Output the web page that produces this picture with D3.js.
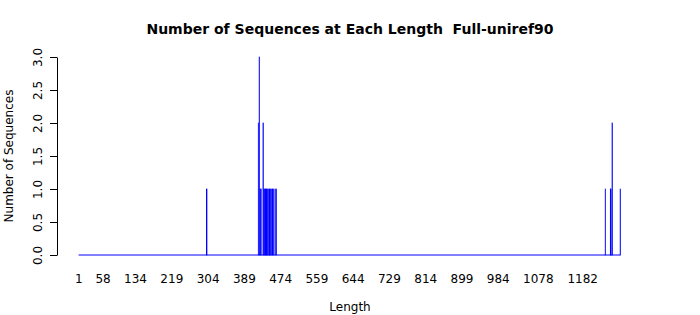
<!DOCTYPE html>
<html>
<head>
<meta charset="utf-8">
<script src="https://cdn.jsdelivr.net/npm/d3@7"></script>
<style>
  body { margin: 0; background: #fff; }
  text { font-family: "DejaVu Sans", sans-serif; fill: #000; }
</style>
</head>
<body>
<svg width="700" height="315"></svg>
<script>
// sequence lengths that have at least one sequence, and how many
var lengths = [301, 422, 424, 426, 428, 433, 435, 437, 439, 441, 443, 445, 448, 450, 452, 455, 457, 461, 464,
               1235, 1247, 1248, 1251, 1270];
var counts  = [1,   2,   3,   1,   1,   2,   1,   1,   1,   1,   1,   1,   1,   1,   1,   1,   1,   1,   1,
               1,    1,    1,    2,    1];
var minLength = 1, maxLength = 1270;
var xLabels = [1, 58, 134, 219, 304, 389, 474, 559, 644, 729, 814, 899, 984, 1078, 1182];
var yTicks = [0, 0.5, 1, 1.5, 2, 2.5, 3];

var svg = d3.select("svg");

var x = d3.scaleLinear().domain([minLength, maxLength]).range([78.8, 620.3]),
    y = d3.scaleLinear().domain([0, 3]).range([255, 57]);

var barW = (x(2) - x(1)) / 1.2; // R barplot, space = 0.2

var data = lengths.map(function(l, i) { return { len: l, n: counts[i] }; });

// zero-height bars show up as a line along the base
svg.append("line")
    .attr("x1", x(minLength) - barW / 2)
    .attr("x2", x(maxLength) + barW / 2)
    .attr("y1", y(0))
    .attr("y2", y(0))
    .style("stroke", "blue")
    .style("stroke-width", 1);

svg.append("g")
  .selectAll("rect")
  .data(data)
  .enter().append("rect")
    .attr("x", function(d) { return x(d.len) - barW / 2; })
    .attr("y", function(d) { return y(d.n); })
    .attr("width", barW)
    .attr("height", function(d) { return y(0) - y(d.n); })
    .style("fill", "blue")
    .style("stroke", "blue")
    .style("stroke-width", 0.7);

// y axis
var yAxis = d3.axisLeft(y).tickValues(yTicks).tickFormat(d3.format(".1f"))
    .tickSize(7).tickSizeOuter(0);

var gy = svg.append("g")
    .attr("transform", "translate(57,0)")
    .call(yAxis);
gy.select(".domain").attr("stroke", "#000");
gy.selectAll(".tick line").attr("stroke", "#000");
gy.selectAll(".tick text")
    .attr("x", null).attr("dy", null)
    .attr("transform", "translate(-15,0) rotate(-90)")
    .attr("text-anchor", "middle")
    .style("font-size", "12px")
    .style("font-family", "DejaVu Sans");

// x labels (no tick marks)
svg.append("g")
  .selectAll("text")
  .data(xLabels)
  .enter().append("text")
    .attr("x", function(d) { return x(d); })
    .attr("y", 283)
    .attr("text-anchor", "middle")
    .style("font-size", "12px")
    .text(function(d) { return d; });

svg.append("text")
    .attr("x", 350)
    .attr("y", 311)
    .attr("text-anchor", "middle")
    .style("font-size", "12px")
    .text("Length");

svg.append("text")
    .attr("transform", "translate(13,156) rotate(-90)")
    .attr("text-anchor", "middle")
    .style("font-size", "12px")
    .text("Number of Sequences");

svg.append("text")
    .attr("x", 350)
    .attr("y", 34)
    .attr("text-anchor", "middle")
    .style("font-size", "14px")
    .style("font-weight", "bold")
    .style("white-space", "pre")
    .text("Number of Sequences at Each Length  Full-uniref90");
</script>
</body>
</html>
